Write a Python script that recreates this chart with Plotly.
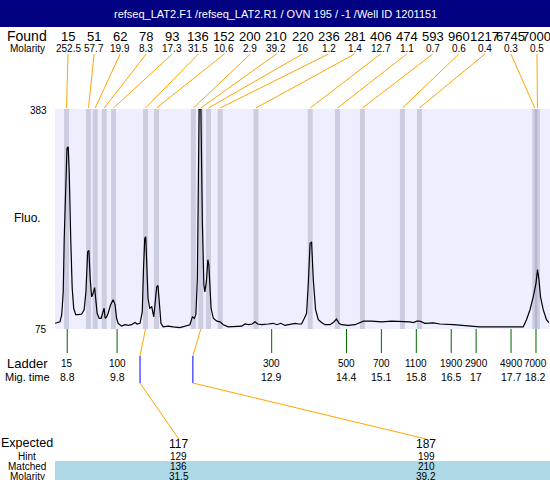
import plotly.graph_objects as go

# electropherogram trace (migration time s, fluorescence)
trace_time = [8.555, 8.655, 8.69, 8.72, 8.74, 8.77, 8.795, 8.82, 8.84, 8.87, 8.90, 8.93, 8.97, 9.02, 9.09,
              9.14, 9.175, 9.21, 9.235, 9.26, 9.29, 9.32, 9.35, 9.37, 9.40, 9.44, 9.48, 9.51, 9.54, 9.56,
              9.59, 9.62, 9.67, 9.72, 9.76, 9.79, 9.82, 9.89, 9.96, 10.025, 10.09, 10.16, 10.20, 10.26,
              10.305, 10.33, 10.355, 10.375, 10.395, 10.42, 10.455, 10.495, 10.535, 10.56, 10.595, 10.62,
              10.645, 10.68, 10.725, 10.825, 10.925, 11.06, 11.26, 11.31, 11.35, 11.38, 11.41, 11.43,
              11.445, 11.48, 11.49, 11.51, 11.54, 11.56, 11.59, 11.62, 11.64, 11.66, 11.685, 11.73, 11.80,
              11.865, 11.93, 12.03, 12.165, 12.30, 12.365, 12.43, 12.51, 12.565, 12.62, 12.70, 12.83,
              12.93, 13.00, 13.085, 13.165, 13.27, 13.37, 13.435, 13.50, 13.555, 13.60, 13.635, 13.67,
              13.70, 13.735, 13.78, 13.835, 13.90, 13.97, 14.07, 14.135, 14.20, 14.25, 14.30, 14.435,
              14.57, 14.67, 14.74, 14.905, 15.105, 15.305, 15.505, 15.67, 15.74, 15.81, 15.87, 15.975,
              16.14, 16.275, 16.54, 16.81, 17.075, 17.41, 17.68, 17.81, 17.945, 18.01, 18.08, 18.145,
              18.20, 18.23, 18.26, 18.29, 18.345, 18.41, 18.46]
trace_fluo = [83, 85, 95, 127, 202, 295, 328, 330, 295, 202, 132, 104, 95, 95, 96,
              102, 127, 183, 185, 146, 120, 125, 133, 118, 97, 90, 90, 97, 104, 90,
              92, 97, 109, 116, 109, 90, 83, 79, 81, 80, 81, 84, 82, 83,
              99, 160, 202, 204, 169, 118, 104, 106, 92, 109, 134, 136,
              109, 83, 78, 79, 78, 77, 81, 92, 90, 95, 146, 295,
              383, 383, 319, 225, 137, 127, 141, 172, 165, 127, 104, 90, 86,
              85, 81, 78, 78, 79, 82, 81, 82, 85, 82, 81, 82,
              83, 81, 83, 80, 81, 83, 82, 82, 90, 97, 139, 195,
              197, 144, 102, 88, 84, 81, 81, 84, 89, 83, 81, 80,
              81, 84, 86, 86, 85, 86, 86, 85, 84, 86, 86, 83,
              83.5, 82, 81, 79, 78, 78, 78, 77, 78, 88, 102, 120,
              139, 158, 144, 120, 102, 88, 84]

# found peaks
found_size = [15, 51, 62, 78, 93, 136, 152, 200, 210, 220, 236, 281, 406, 474, 593, 960, 1217, 6745, 7000]
found_molarity = [252.5, 57.7, 19.9, 8.3, 17.3, 31.5, 10.6, 2.9, 39.2, 16, 1.2, 1.4, 12.7, 1.1, 0.7, 0.6, 0.4, 0.3, 0.5]
found_time = [8.786, 9.227, 9.361, 9.543, 9.728, 10.37, 10.59, 11.33, 11.478, 11.633, 11.867, 12.585,
              13.672, 14.219, 14.72, 15.522, 15.863, 18.175, 18.229]

# ladder
ladder_size = [15, 100, 300, 500, 700, 1100, 1900, 2900, 4900, 7000]
ladder_time = [8.8, 9.8, 12.9, 14.4, 15.1, 15.8, 16.5, 17, 17.7, 18.2]

# expected fragments
expected_size = [117, 187]
expected_hint = [129, 199]
expected_time = [10.26, 11.32]
matched_size = [136, 210]
matched_molarity = [31.5, 39.2]

title = 'refseq_LAT2.F1 /refseq_LAT2.R1 / OVN 195 / -1 /Well ID 1201151'

W, H = 550, 480
PL, PR, PT, PB = 55, 550, 109, 329
T0, T1 = 8.555, 18.481
F0, F1 = 75, 383
FONT = 'Liberation Sans, Arial, sans-serif'


def tx(t):
    return PL + (t - T0) / (T1 - T0) * (PR - PL)


def fmt(v):
    return ('%g' % v)


def prect(x0, x1, y0, y1, color):
    # background block in page pixels, drawn under every subplot
    return dict(type='rect', xref='paper', yref='paper', x0=x0 / W, x1=x1 / W,
                y0=1 - y1 / H, y1=1 - y0 / H, fillcolor=color, line_width=0, layer='below')


fig = go.Figure()

fig.add_trace(go.Scatter(x=trace_time, y=trace_fluo, mode='lines',
                         line=dict(color='black', width=1.2), hoverinfo='skip', showlegend=False,
                         xaxis='x', yaxis='y'))

shapes = []
ann = []

# title bar, plot background, matched row band
shapes.append(prect(0, W, 0, 27, '#000080'))
shapes.append(prect(PL, PR, PT, PB, '#EEEEFF'))
shapes.append(prect(PL, PR, 461, H, '#ADD8E6'))

ann.append(dict(x=W / 2, y=13.5, text=title, font=dict(color='white', size=11)))

# peak bands
for t in found_time:
    shapes.append(dict(type='rect', xref='x', yref='y', x0=t - 0.05, x1=t + 0.05, y0=F0, y1=F1,
                       fillcolor='rgba(128,128,160,0.3)', line_width=0, layer='below'))

# found row + connectors
n = len(found_size)
colw = (PR - PL) / n
for i in range(n):
    cx = PL + colw * (i + 0.5)
    ann.append(dict(x=cx, y=36, text=str(found_size[i]), font=dict(size=13)))
    ann.append(dict(x=cx, y=48, text=fmt(found_molarity[i]), font=dict(size=10)))
    shapes.append(dict(type='line', xref='x2', yref='y2', x0=cx, y0=54, x1=tx(found_time[i]), y1=108,
                       line=dict(color='orange', width=1)))

ann.append(dict(x=27, y=36, text='Found', font=dict(size=14)))
ann.append(dict(x=27, y=48, text='Molarity', font=dict(size=10)))

# axis labels
ann.append(dict(x=48, y=110, text=str(F1), xanchor='right', font=dict(size=10)))
ann.append(dict(x=48, y=329, text=str(F0), xanchor='right', font=dict(size=10)))
ann.append(dict(x=27, y=218, text='Fluo.', font=dict(size=12)))

# ladder
for s, t in zip(ladder_size, ladder_time):
    shapes.append(dict(type='line', xref='x', yref='y2', x0=t, x1=t, y0=329, y1=353,
                       line=dict(color='darkgreen', width=1)))
    ann.append(dict(x=tx(t), y=363, text=str(s), font=dict(size=10)))
    ann.append(dict(x=tx(t), y=377, text=fmt(t), font=dict(size=10.5)))
ann.append(dict(x=27, y=363, text='Ladder', font=dict(size=13)))
ann.append(dict(x=27, y=377, text='Mig. time', font=dict(size=11)))

# expected
m = len(expected_size)
ecol = (PR - PL) / m
tight = dict(height=10)
for i in range(m):
    cx = PL + ecol * (i + 0.5)
    bx = tx(found_time[found_size.index(matched_size[i])])
    ex = tx(expected_time[i])
    shapes.append(dict(type='line', xref='x2', yref='y2', x0=bx, y0=329, x1=ex, y1=356,
                       line=dict(color='orange', width=1)))
    shapes.append(dict(type='line', xref='x2', yref='y2', x0=ex, x1=ex, y0=356, y1=383,
                       line=dict(color='blue', width=1)))
    shapes.append(dict(type='line', xref='x2', yref='y2', x0=ex, y0=383, x1=cx, y1=439,
                       line=dict(color='orange', width=1)))
    ann.append(dict(x=cx, y=444, text=str(expected_size[i]), font=dict(size=12), height=12))
    ann.append(dict(x=cx, y=456, text=str(expected_hint[i]), font=dict(size=10), **tight))
    ann.append(dict(x=cx, y=466, text=str(matched_size[i]), font=dict(size=10), **tight))
    ann.append(dict(x=cx, y=475.5, text=fmt(matched_molarity[i]), font=dict(size=10), **tight))
ann.append(dict(x=27, y=443, text='Expected', font=dict(size=12.5), height=12))
ann.append(dict(x=27, y=456, text='Hint', font=dict(size=10), **tight))
ann.append(dict(x=27, y=466, text='Matched', font=dict(size=10), **tight))
ann.append(dict(x=27, y=475.5, text='Molarity', font=dict(size=10), **tight))

for a in ann:
    a.setdefault('xref', 'x2')
    a.setdefault('yref', 'y2')
    a.setdefault('showarrow', False)
    a.setdefault('xanchor', 'center')
    a.setdefault('yanchor', 'middle')
    a.setdefault('borderpad', 0)
    a['font'].setdefault('color', 'black')
    a['font'].setdefault('family', FONT)

fig.update_layout(
    width=W, height=H, margin=dict(l=0, r=0, t=0, b=0),
    paper_bgcolor='white', plot_bgcolor='rgba(0,0,0,0)',
    showlegend=False, shapes=shapes, annotations=ann,
    xaxis=dict(domain=[PL / W, PR / W], range=[T0, T1], visible=False, fixedrange=True, anchor='y'),
    yaxis=dict(domain=[1 - PB / H, 1 - PT / H], range=[F0, F1], visible=False, fixedrange=True, anchor='x'),
    xaxis2=dict(domain=[0, 1], range=[0, W], visible=False, fixedrange=True, anchor='y2'),
    yaxis2=dict(domain=[0, 1], range=[H, 0], visible=False, fixedrange=True, anchor='x2'),
)

fig.write_html("out.html", config={'displayModeBar': False},
               post_script="document.body.style.margin='0';")
